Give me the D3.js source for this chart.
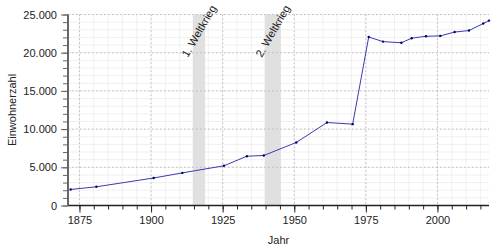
<!DOCTYPE html>
<html>
<head>
<meta charset="utf-8">
<script src="https://cdn.jsdelivr.net/npm/d3@7"></script>
<style>
  body { margin: 0; background: #fff; }
  svg { font-family: "Liberation Sans", Arial, sans-serif; }
</style>
</head>
<body>
<div id="main"></div>
<script>
// census dates and population
const dates = ["1871-12-01", "1880-12-01", "1900-12-01", "1910-12-01", "1925-06-16",
  "1933-06-16", "1939-05-17", "1950-09-13", "1961-06-06", "1970-05-27",
  "1975-12-31", "1980-12-31", "1987-05-25", "1990-12-31", "1995-12-31",
  "2000-12-31", "2005-12-31", "2010-12-31", "2015-12-31", "2017-12-31"];
const population = [2100, 2450, 3600, 4270, 5200,
  6450, 6550, 8250, 10860, 10650,
  22050, 21450, 21300, 21900, 22150,
  22200, 22700, 22900, 23820, 24200];

// shaded periods
const warLabels = ["1. Weltkrieg", "2. Weltkrieg"];
const warStarts = ["1914-07-28", "1939-09-01"];
const warEnds = ["1918-11-11", "1945-05-08"];

const yTicks = [0, 5000, 10000, 15000, 20000, 25000];
const xLabel = "Jahr";
const yLabel = "Einwohnerzahl";

const width = 500, height = 250;
const plotLeft = 68, plotRight = 489, plotTop = 14.5, plotBottom = 205.5;

const parse = d3.timeParse("%Y-%m-%d");
const data = dates.map((d, i) => ({ date: parse(d), value: population[i] }));
const wars = warLabels.map((l, i) => ({ label: l, start: parse(warStarts[i]), end: parse(warEnds[i]) }));

const de = d3.formatLocale({ decimal: ",", thousands: ".", grouping: [3], currency: ["", " €"] });
const fmt = de.format(",d");

const x = d3.scaleTime()
  .domain([new Date(1871, 0, 1), parse("2017-12-31")])
  .range([plotLeft, plotRight]);
const y = d3.scaleLinear().domain([0, 25000]).range([plotBottom, plotTop]);

const xMajor = d3.timeYear.every(25).range(x.domain()[0], x.domain()[1]);
const xMinor = d3.timeYear.every(5).range(x.domain()[0], x.domain()[1]);
const yMinor = d3.range(0, 25001, 1000);

const svg = d3.select("#main").append("svg")
  .attr("width", width)
  .attr("height", height);

//Minor grid.
svg.append("g").selectAll("line").data(xMinor)
  .enter().append("line")
  .attr("x1", d => x(d)).attr("x2", d => x(d))
  .attr("y1", plotTop).attr("y2", plotBottom)
  .attr("stroke", "#ececec").attr("stroke-width", 0.8);
svg.append("g").selectAll("line").data(yMinor)
  .enter().append("line")
  .attr("x1", plotLeft).attr("x2", plotRight)
  .attr("y1", d => y(d)).attr("y2", d => y(d))
  .attr("stroke", "#ececec").attr("stroke-width", 0.8);

//War bands.
svg.append("g").selectAll("rect").data(wars)
  .enter().append("rect")
  .attr("x", d => x(d.start))
  .attr("width", d => x(d.end) - x(d.start))
  .attr("y", plotTop)
  .attr("height", plotBottom - plotTop)
  .attr("fill", "#e0e0e0");

//Major grid (dotted).
svg.append("g").selectAll("line").data(xMajor)
  .enter().append("line")
  .attr("x1", d => x(d)).attr("x2", d => x(d))
  .attr("y1", plotTop).attr("y2", plotBottom)
  .attr("stroke", "#b0b0b0").attr("stroke-width", 0.8)
  .attr("stroke-dasharray", "1.5,2.5");
svg.append("g").selectAll("line").data(yTicks.filter(d => d > 0))
  .enter().append("line")
  .attr("x1", plotLeft).attr("x2", plotRight)
  .attr("y1", d => y(d)).attr("y2", d => y(d))
  .attr("stroke", "#b0b0b0").attr("stroke-width", 0.8)
  .attr("stroke-dasharray", "1.5,2.5");

//War labels.
svg.append("g").selectAll("text").data(wars)
  .enter().append("text")
  .attr("transform", d => "translate(" + ((x(d.start) + x(d.end)) / 2) + ",31) rotate(-60)")
  .attr("text-anchor", "middle")
  .attr("dy", "0.35em")
  .attr("font-size", 11)
  .attr("fill", "#222")
  .text(d => d.label);

//Axes.
const xAxisMinor = d3.axisBottom(x).tickValues(xMinor).tickSize(4).tickFormat("");
const xAxis = d3.axisBottom(x).tickValues(xMajor).tickSize(7).tickPadding(4)
  .tickFormat(d3.timeFormat("%Y"));
svg.append("g").attr("transform", "translate(0," + plotBottom + ")").call(xAxisMinor)
  .call(g => g.select(".domain").remove())
  .call(g => g.selectAll("line").attr("stroke", "#222"));
const gx = svg.append("g").attr("transform", "translate(0," + plotBottom + ")").call(xAxis);
gx.select(".domain").attr("stroke", "#222").attr("stroke-width", 1.6)
  .attr("d", "M" + plotLeft + ",0H" + plotRight);
gx.selectAll("line").attr("stroke", "#222");
gx.selectAll("text").attr("font-size", 11).attr("fill", "#222")
  .attr("font-family", "Liberation Sans, Arial, sans-serif");

const yAxisMinor = d3.axisLeft(y).tickValues(yMinor).tickSize(5).tickFormat("");
const yAxis = d3.axisLeft(y).tickValues(yTicks).tickSize(7).tickPadding(4).tickFormat(fmt);
svg.append("g").attr("transform", "translate(" + plotLeft + ",0)").call(yAxisMinor)
  .call(g => g.select(".domain").remove())
  .call(g => g.selectAll("line").attr("stroke", "#666"));
const gy = svg.append("g").attr("transform", "translate(" + plotLeft + ",0)").call(yAxis);
gy.select(".domain").attr("stroke", "#666").attr("stroke-width", 2)
  .attr("d", "M0," + plotTop + "V" + plotBottom);
gy.selectAll("line").attr("stroke", "#666");
gy.selectAll("text").attr("font-size", 11).attr("fill", "#222")
  .attr("font-family", "Liberation Sans, Arial, sans-serif");

//Axis titles.
svg.append("text")
  .attr("x", (plotLeft + plotRight) / 2).attr("y", 244)
  .attr("text-anchor", "middle")
  .attr("font-size", 11).attr("fill", "#222")
  .text(xLabel);
svg.append("text")
  .attr("transform", "translate(16," + ((plotTop + plotBottom) / 2) + ") rotate(-90)")
  .attr("text-anchor", "middle")
  .attr("font-size", 11).attr("fill", "#222")
  .text(yLabel);

//Line and points.
const line = d3.line().x(d => x(d.date)).y(d => y(d.value));
svg.append("path").datum(data)
  .attr("d", line)
  .attr("fill", "none")
  .attr("stroke", "#3b3bb0")
  .attr("stroke-width", 1);
svg.append("g").selectAll("circle").data(data)
  .enter().append("circle")
  .attr("cx", d => x(d.date))
  .attr("cy", d => y(d.value))
  .attr("r", 1.2)
  .attr("fill", "#00006e");
</script>
</body>
</html>
